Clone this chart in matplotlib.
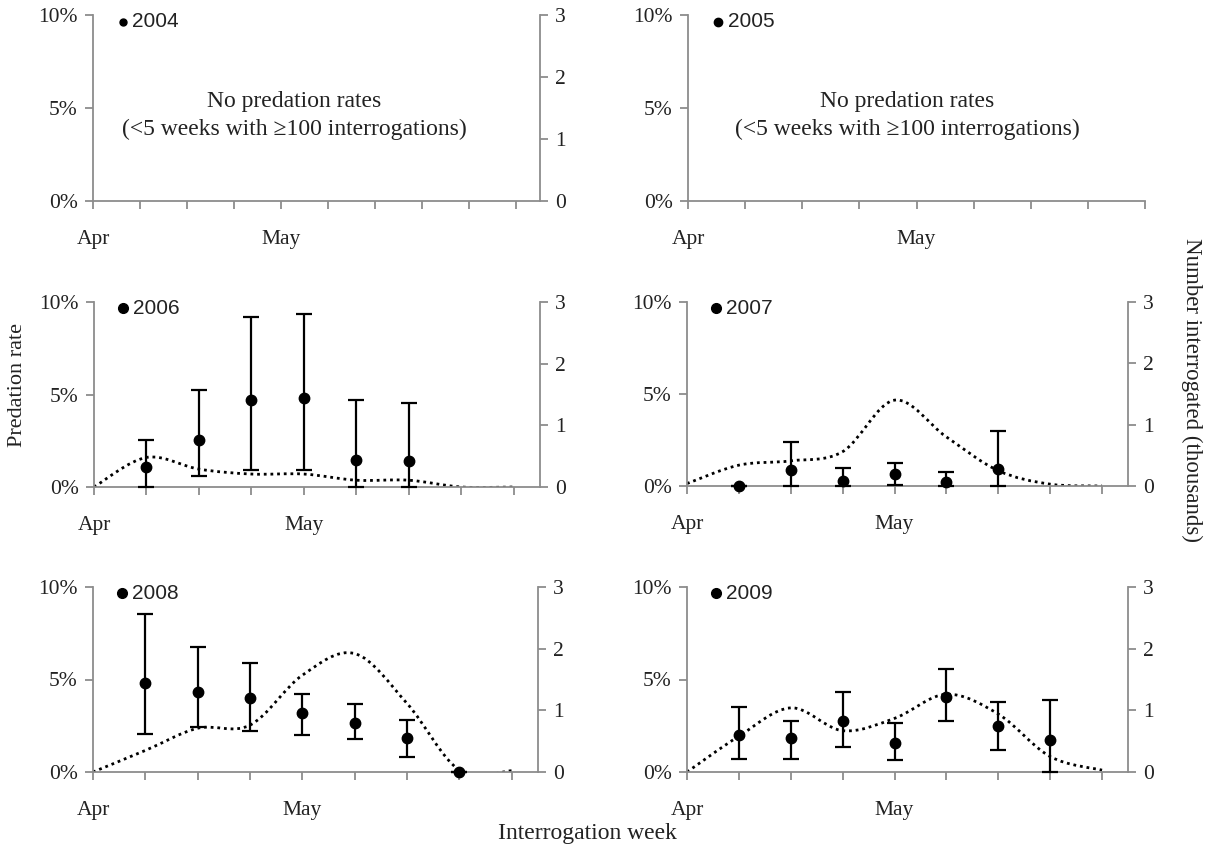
import matplotlib.pyplot as plt
from matplotlib.path import Path
from matplotlib.patches import PathPatch

W, H = 1207, 849
plt.rcParams['font.family'] = ['Liberation Serif', 'DejaVu Serif']

# weeks since start of April (category index)
weeks = [0, 1, 2, 3, 4, 5, 6, 7, 8]

# predation rate (%), with lower / upper bounds of the error bars
wk_2006 = [1, 2, 3, 4, 5, 6]
rate_2006 = [1.10, 2.55, 4.72, 4.79, 1.45, 1.41]
lo_2006 = [0.0, 0.60, 0.90, 0.90, 0.0, 0.0]
hi_2006 = [2.53, 5.26, 9.19, 9.37, 4.72, 4.54]

wk_2007 = [1, 2, 3, 4, 5, 6]
rate_2007 = [0.0, 0.87, 0.27, 0.65, 0.20, 0.90]
lo_2007 = [0.0, 0.0, 0.0, 0.05, 0.0, 0.0]
hi_2007 = [0.0, 2.37, 0.96, 1.27, 0.74, 2.98]

wk_2008 = [1, 2, 3, 4, 5, 6, 7]
rate_2008 = [4.79, 4.34, 3.99, 3.21, 2.64, 1.83, 0.0]
lo_2008 = [2.06, 2.42, 2.19, 2.01, 1.78, 0.81, 0.0]
hi_2008 = [8.53, 6.73, 5.91, 4.22, 3.68, 2.82, 0.0]

wk_2009 = [1, 2, 3, 4, 5, 6, 7]
rate_2009 = [2.01, 1.83, 2.73, 1.56, 4.08, 2.46, 1.71]
lo_2009 = [0.72, 0.72, 1.33, 0.66, 2.73, 1.17, 0.0]
hi_2009 = [3.54, 2.78, 4.34, 2.67, 5.55, 3.81, 3.90]

# number interrogated (thousands) per week
n_2006 = [0.0, 0.48, 0.29, 0.21, 0.21, 0.11, 0.11, 0.0, 0.0]
n_2007 = [0.04, 0.34, 0.41, 0.56, 1.40, 0.80, 0.25, 0.03, 0.0]
n_2008 = [0.0, 0.35, 0.71, 0.76, 1.57, 1.92, 1.11, 0.03, 0.02]
n_2009 = [0.0, 0.58, 1.04, 0.67, 0.87, 1.26, 0.94, 0.25, 0.03]

note = "No predation rates\n(<5 weeks with \u2265100 interrogations)"
grey = '#8c8c8c'
txt = '#222222'


def smooth_path(x, y):
    # excel-like smoothed line: catmull-rom segments as cubic beziers
    pts = list(zip(x, y))
    verts = [pts[0]]
    codes = [Path.MOVETO]
    for i in range(len(pts) - 1):
        p0 = pts[max(i - 1, 0)]
        p1 = pts[i]
        p2 = pts[i + 1]
        p3 = pts[min(i + 2, len(pts) - 1)]
        c1 = (p1[0] + (p2[0] - p0[0]) / 6, p1[1] + (p2[1] - p0[1]) / 6)
        c2 = (p2[0] - (p3[0] - p1[0]) / 6, p2[1] - (p3[1] - p1[1]) / 6)
        verts += [c1, c2, p2]
        codes += [Path.CURVE4] * 3
    return Path(verts, codes)


def panel(l, t, r, b, year, nticks, xmax, right=True, msize=7):
    ax = fig.add_axes([l / W, 1 - b / H, (r - l) / W, (b - t) / H])
    ax.set_xlim(0, xmax)
    ax.set_ylim(0, 10)
    ax.set_yticks([0, 5, 10])
    ax.set_yticklabels(['0%', '5%', '10%'])
    ax.set_xticks(range(nticks))
    labs = [''] * nticks
    labs[0] = 'Apr'
    labs[4] = 'May'
    ax.set_xticklabels(labs)
    ax.spines['top'].set_visible(False)
    ax.spines['right'].set_visible(False)
    for s in ['left', 'bottom']:
        ax.spines[s].set_color(grey)
        ax.spines[s].set_linewidth(1.3)
    ax.tick_params(direction='out', length=6, color=grey, width=1.3,
                   labelsize=15.5, labelcolor=txt)
    ax.tick_params(axis='x', pad=15)
    ax.tick_params(axis='y', pad=5)
    ax2 = None
    if right:
        ax2 = ax.twinx()
        ax2.set_ylim(0, 3)
        ax2.set_yticks([0, 1, 2, 3])
        for s in ['top', 'left', 'bottom']:
            ax2.spines[s].set_visible(False)
        ax2.spines['right'].set_color(grey)
        ax2.spines['right'].set_linewidth(1.3)
        ax2.tick_params(direction='out', length=6, color=grey, width=1.3,
                        labelsize=15.5, labelcolor=txt, pad=5)
        ax.set_zorder(ax2.get_zorder() + 1)
        ax.patch.set_visible(False)
    ax.plot([0.066], [0.965], 'o', color='black', ms=msize,
            transform=ax.transAxes, clip_on=False)
    ax.text(0.088, 0.965, year, transform=ax.transAxes, va='center',
            ha='left', fontsize=15, family=['Liberation Sans'], color=txt)
    return ax, ax2


def draw(ax, ax2, wk, rate, lo, hi, n):
    err = [[r - a for r, a in zip(rate, lo)], [b - r for r, b in zip(rate, hi)]]
    ax.errorbar(wk, rate, yerr=err, fmt='o', color='black', ms=7.5,
                elinewidth=1.6, capsize=6, capthick=1.6, clip_on=False,
                zorder=3)
    ax2.add_patch(PathPatch(smooth_path(weeks, n), fill=False,
                            edgecolor='black', lw=2.0,
                            linestyle=(0, (1, 1.4))))


fig = plt.figure(figsize=(W / 100, H / 100), dpi=100)

a, a2 = panel(93, 15, 540, 201, '2004', 10, 9.5, msize=5)
a.text(0.45, 0.46, note, transform=a.transAxes, ha='center', va='center',
       fontsize=17, color=txt, linespacing=1.4)
a, a2 = panel(688, 15, 1145, 201, '2005', 9, 8, right=False, msize=6)
a.text(0.48, 0.46, note, transform=a.transAxes, ha='center', va='center',
       fontsize=17, color=txt, linespacing=1.4)

a, a2 = panel(94, 302, 540, 487, '2006', 9, 8.5)
draw(a, a2, wk_2006, rate_2006, lo_2006, hi_2006, n_2006)
a, a2 = panel(687, 302, 1128, 486, '2007', 9, 8.5)
draw(a, a2, wk_2007, rate_2007, lo_2007, hi_2007, n_2007)

a, a2 = panel(93, 587, 538, 772, '2008', 9, 8.5)
draw(a, a2, wk_2008, rate_2008, lo_2008, hi_2008, n_2008)
a, a2 = panel(687, 587, 1128, 772, '2009', 9, 8.5)
draw(a, a2, wk_2009, rate_2009, lo_2009, hi_2009, n_2009)

fig.text(18 / W, 1 - 385 / H, 'Predation rate', rotation=90, ha='center',
         va='center', fontsize=16, color=txt)
fig.text(1192 / W, 1 - 390 / H, 'Number interrogated (thousands)',
         rotation=270, ha='center', va='center', fontsize=16.5, color=txt)
fig.text(587 / W, 1 - 833 / H, 'Interrogation week', ha='center',
         va='center', fontsize=17, color=txt)

fig.savefig('out.png', dpi=100)
